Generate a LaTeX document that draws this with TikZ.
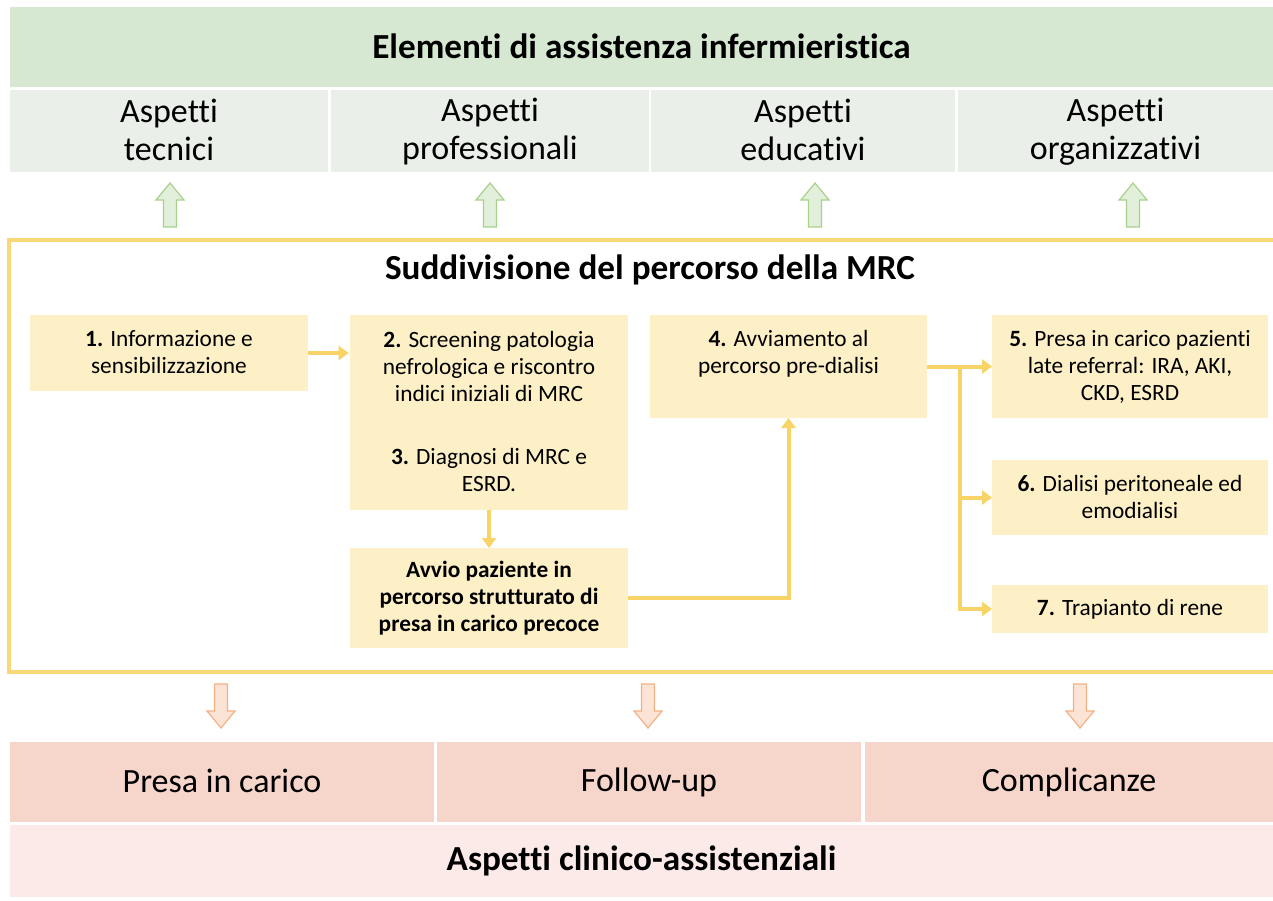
\documentclass[tikz,border=0pt]{standalone}
\usepackage{fontspec}
\setmainfont{Carlito}[Ligatures=NoCommon]
\usetikzlibrary{arrows.meta}
\definecolor{bannerG}{HTML}{D6E7D2}
\definecolor{cellG}{HTML}{EAF0E9}
\definecolor{arrG}{HTML}{E2EFDA}
\definecolor{arrGline}{HTML}{A9D18E}
\definecolor{frameY}{HTML}{F8D878}
\definecolor{boxY}{HTML}{FDF0C6}
\definecolor{connY}{HTML}{F8D366}
\definecolor{arrO}{HTML}{FBE3D6}
\definecolor{arrOline}{HTML}{F4B183}
\definecolor{cellP}{HTML}{F6D5CB}
\definecolor{bannerP}{HTML}{FBEAE7}
\newlength\pu
\setlength\pu{0.75pt}
\newcommand\vst{\rule[-0.08em]{0pt}{0.8em}}
\begin{document}
\begin{tikzpicture}[x=0.75pt,y=-0.75pt,
  area/.style={draw=none, inner sep=0pt, outer sep=0pt, align=center},
  bigbold/.style={font=\fontsize{26.4}{30}\selectfont\bfseries},
  bigtxt/.style={font=\fontsize{25.5}{28.5}\selectfont},
  boxtxt/.style={font=\fontsize{17.5}{20.25}\selectfont, align=center, inner sep=0pt},
  stepbox/.style={area, fill=boxY, font=\fontsize{17.5}{20.25}\selectfont},
  conn/.style={draw=connY, line width=3pt, -{Triangle[width=10.5pt,length=7.5pt]}},
  pics/uparr/.style={code={
    \draw[draw=arrGline, fill=arrG, line width=0.9pt, line join=miter]
      (-6.5,22) -- (-6.5,-5) -- (-14,-5) -- (0,-22) -- (14,-5) -- (6.5,-5) -- (6.5,22) -- cycle;}},
  pics/downarr/.style={code={
    \draw[draw=arrOline, fill=arrO, line width=0.9pt, line join=miter]
      (-6.5,-22) -- (-6.5,5) -- (-14,5) -- (0,22) -- (14,5) -- (6.5,5) -- (6.5,-22) -- cycle;}}
]
\useasboundingbox (0,0) rectangle (1273,900);
\clip (0,0) rectangle (1273,900);
\fill[white] (0,0) rectangle (1273,900);

% top banner and cells
\node[area, fill=bannerG, bigbold, minimum width=1263*\pu, minimum height=80*\pu] (topb) at (641.5,47) {\vst Elementi di assistenza infermieristica};
\node[area, fill=cellG, bigtxt, minimum width=318*\pu, minimum height=82*\pu] (c1) at (169,131) {\vst Aspetti\\\vst tecnici};
\node[area, fill=cellG, bigtxt, minimum width=318*\pu, minimum height=82*\pu] (c2) at (490,131) {\vst Aspetti\\\vst professionali};
\node[area, fill=cellG, bigtxt, minimum width=304*\pu, minimum height=82*\pu] (c3) at (803,131) {\vst Aspetti\\\vst educativi};
\node[area, fill=cellG, bigtxt, minimum width=315*\pu, minimum height=82*\pu] (c4) at (1115.5,131) {\vst Aspetti\\\vst organizzativi};

\pic at (170,205) {uparr};
\pic at (490,205) {uparr};
\pic at (815,205) {uparr};
\pic at (1133,205) {uparr};

% frame
\draw[frameY, line width=2.4pt] (9,240) rectangle (1290,672);
\node[bigbold, inner sep=0pt] (title) at (650,270) {\vst Suddivisione del percorso della MRC};

% steps
\node[stepbox, minimum width=278*\pu, minimum height=76*\pu] (b1) at (169,353) {\vst\textbf{1.} Informazione e\\\vst sensibilizzazione};
\node[stepbox, minimum width=278*\pu, minimum height=195*\pu] (b2) at (489,412.5) {\vst\textbf{2.} Screening patologia\\\vst nefrologica e riscontro\\\vst indici iniziali di MRC\\[27pt]\vst\textbf{3.} Diagnosi di MRC e\\\vst ESRD.};
\node[stepbox, minimum width=278*\pu, minimum height=100*\pu, font=\fontsize{17.5}{20.25}\selectfont\bfseries] (av) at (489,598) {\vst Avvio paziente in\\\vst percorso strutturato di\\\vst presa in carico precoce};
\node[stepbox, minimum width=277*\pu, minimum height=103*\pu] (b4) at (788.5,366.5) {};
\node[boxtxt] (t4) at (788.5,353.5) {\vst\textbf{4.} Avviamento al\\\vst percorso pre-dialisi};
\node[stepbox, minimum width=276*\pu, minimum height=103*\pu] (b5) at (1130,366.5) {\vst\textbf{5.} Presa in carico pazienti\\\vst late referral: IRA, AKI,\\\vst CKD, ESRD};
\node[stepbox, minimum width=276*\pu, minimum height=75*\pu] (b6) at (1130,497.5) {\vst\textbf{6.} Dialisi peritoneale ed\\\vst emodialisi};
\node[stepbox, minimum width=276*\pu, minimum height=48*\pu] (b7) at (1130,609) {\vst\textbf{7.} Trapianto di rene};

% connectors
\draw[conn, shorten >=1pt] (b1.east) -- (b1.east -| b2.west);
\draw[conn] (b2.south) -- (av.north);
\draw[conn] (av.east) -| (b4.south);
\coordinate (j) at (960,366.5);
\draw[conn] (b4.east) -- (b5.west);
\draw[conn] (j) |- (b6.west);
\draw[conn] (j) |- (b7.west);

% bottom
\pic at (221,706) {downarr};
\pic at (648,706) {downarr};
\pic at (1080,706) {downarr};

\node[area, fill=cellP, bigtxt, minimum width=424*\pu, minimum height=80*\pu] (p1) at (222,782) {\vst Presa in carico};
\node[area, fill=cellP, bigtxt, minimum width=424*\pu, minimum height=80*\pu] (p2) at (649,782) {\vst Follow-up};
\node[area, fill=cellP, bigtxt, minimum width=408*\pu, minimum height=80*\pu] (p3) at (1069,782) {\vst Complicanze};
\node[area, fill=bannerP, bigbold, minimum width=1263*\pu, minimum height=72*\pu] (botb) at (641.5,861) {\vst Aspetti clinico-assistenziali};
\end{tikzpicture}
\end{document}
